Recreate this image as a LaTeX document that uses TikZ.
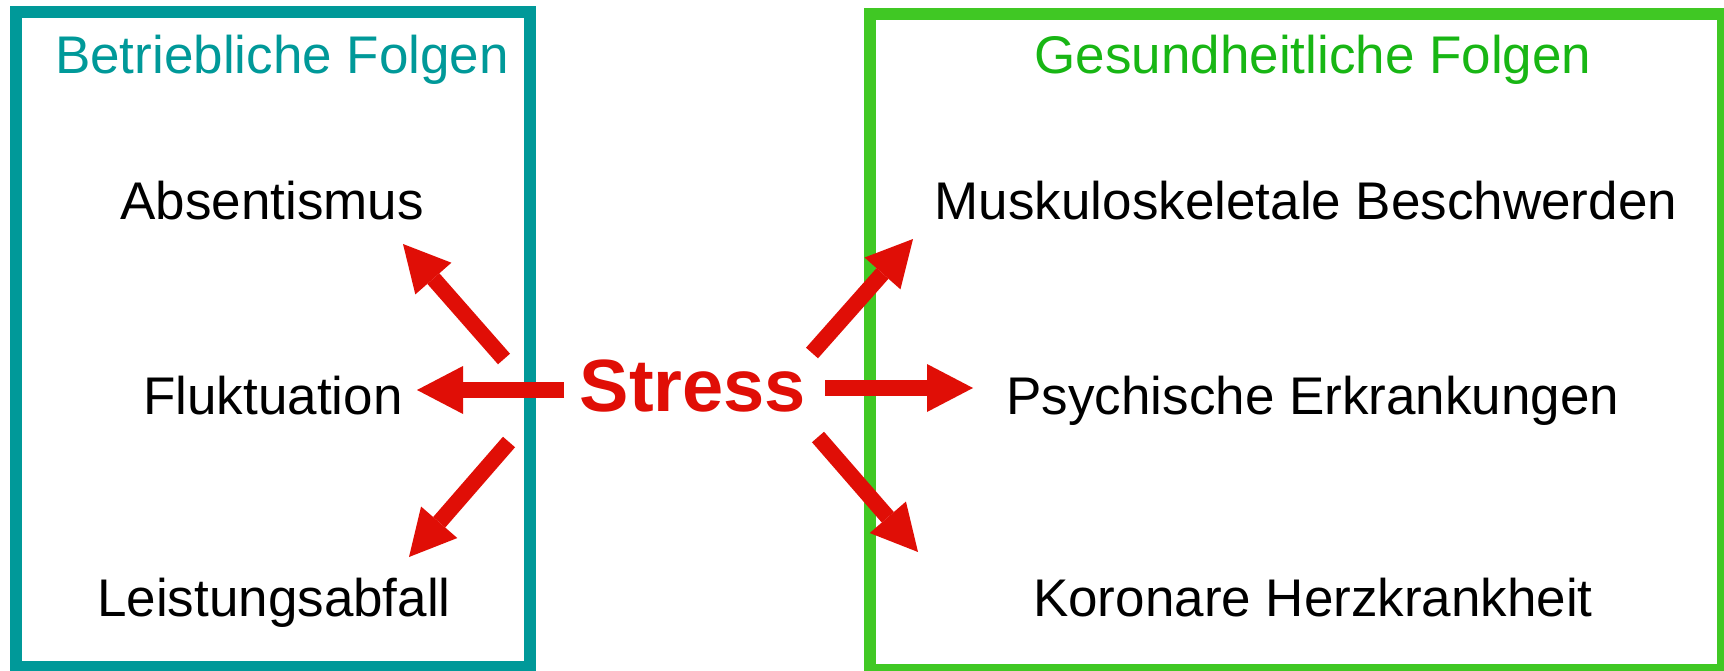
\documentclass[tikz,border=0pt]{standalone}
\usepackage{fontspec}
\setmainfont{Liberation Sans}
\usetikzlibrary{arrows.meta}
\definecolor{tealframe}{RGB}{0,153,153}
\definecolor{greenframe}{RGB}{64,200,36}
\definecolor{greentext}{RGB}{24,182,20}
\definecolor{stressred}{RGB}{224,14,6}
\tikzset{
  frame/.style={line width=12pt},
  label/.style={font=\fontsize{53}{60}\selectfont, anchor=base, inner sep=0pt},
  heading/.style={label},
  stressarrow/.style={stressred, line width=16pt,
    -{Triangle[length=46pt,width=48pt,line width=0pt]}},
}
\begin{document}
\begin{tikzpicture}[x=1pt,y=-1pt]
  \useasboundingbox (0,0) rectangle (1724,671);
  \fill[white] (0,0) rectangle (1724,671);

  % frames
  \draw[frame, tealframe] (16,12) rectangle (530,667);
  \draw[frame, greenframe] (870,14) rectangle (1723,670);

  % headings
  \node[heading, text=tealframe] (hleft) at (282,74) {Betriebliche Folgen};
  \node[heading, text=greentext] (hright) at (1313,74) {Gesundheitliche Folgen};

  % left column
  \node[label] (abs) at (272,219) {Absentismus};
  \node[label] (flu) at (273,414) {Fluktuation};
  \node[label] (lei) at (274,616) {Leistungsabfall};

  % right column
  \node[label] (mus) at (1306,219) {Muskuloskeletale Beschwerden};
  \node[label] (psy) at (1313,414) {Psychische Erkrankungen};
  \node[label] (kor) at (1313,616) {Koronare Herzkrankheit};

  % centre
  \node[anchor=base, inner sep=0pt, text=stressred,
        font=\fontsize{74}{80}\selectfont\bfseries] (stress) at (693,411) {Stress};

  % arrow ends
  \coordinate (tUL) at (504,359);  \coordinate (hUL) at (403,244);
  \coordinate (tL)  at (564,390);  \coordinate (hL)  at (417,390);
  \coordinate (tDL) at (509,442);  \coordinate (hDL) at (409,557);
  \coordinate (tUR) at (812,353);  \coordinate (hUR) at (913,239);
  \coordinate (tR)  at (825,388);  \coordinate (hR)  at (973,388);
  \coordinate (tDR) at (818,437);  \coordinate (hDR) at (918,552);

  \draw[stressarrow] (tUL) -- (hUL);
  \draw[stressarrow] (tL) -- (hL);
  \draw[stressarrow] (tDL) -- (hDL);
  \draw[stressarrow] (tUR) -- (hUR);
  \draw[stressarrow] (tR) -- (hR);
  \draw[stressarrow] (tDR) -- (hDR);
\end{tikzpicture}
\end{document}
